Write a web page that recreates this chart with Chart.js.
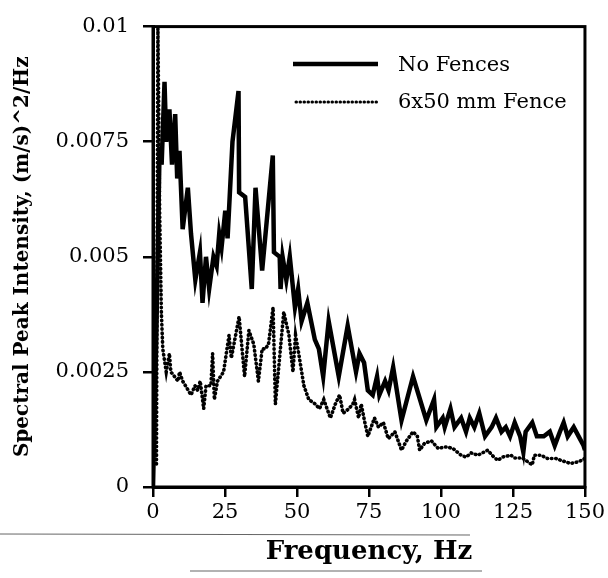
<!DOCTYPE html>
<html>
<head>
<meta charset="utf-8">
<script src="https://cdn.jsdelivr.net/npm/chart.js@4.4.1/dist/chart.umd.min.js"></script>
<style>
  html, body { margin: 0; padding: 0; background: #fff; }
  #wrap { width: 608px; height: 578px; position: relative; }
</style>
</head>
<body>
<div id="wrap"><canvas id="grafica"></canvas></div>
<script>
// Frecuencias (Hz) y picos espectrales
const freqSinValla = [0, 1.2, 2.3, 3.0, 4.0, 4.6, 5.7, 6.6, 7.7, 8.4, 9.2, 10.3, 12.1, 13.2, 14.7, 16.3, 17.2,
  18.4, 19.5, 21.0, 22.1, 23.0, 23.8, 25.1, 25.9, 27.6, 29.7, 29.9, 32.0, 34.3, 35.6, 37.9, 41.6, 42.0,
  44.0, 44.3, 45.0, 46.3, 47.5, 49.3, 50.4, 51.6, 53.6, 56.2, 57.6, 59.1, 61.0, 64.5, 67.6, 70.5, 71.7,
  73.3, 74.6, 76.3, 77.8, 78.6, 80.6, 81.8, 83.4, 86.3, 90.3, 94.9, 97.6, 98.4, 100.6, 101.3, 103.3,
  104.7, 107.0, 108.7, 110.0, 111.6, 113.3, 115.3, 117.6, 119.1, 121.0, 122.5, 124.0, 125.6, 127.5,
  128.6, 129.4, 131.7, 133.3, 135.7, 137.8, 139.5, 141.3, 142.6, 144.0, 146.1, 147.8, 149.5, 150];
const sinValla = [0, 0.0035, 0.0074, 0.0070, 0.0088, 0.0075, 0.0082, 0.0070, 0.0081, 0.0067, 0.0073,
  0.0056, 0.0065, 0.0055, 0.0045, 0.0051, 0.0040, 0.0050, 0.0043, 0.0050, 0.0048, 0.0055, 0.0052,
  0.0060, 0.0054, 0.0075, 0.0086, 0.0064, 0.0063, 0.0043, 0.0065, 0.0047, 0.0072, 0.0051, 0.0050,
  0.0043, 0.0050, 0.0045, 0.0050, 0.0039, 0.0043, 0.0036, 0.0040, 0.0032, 0.0030, 0.0024, 0.0036,
  0.0024, 0.0035, 0.0025, 0.0029, 0.0027, 0.0021, 0.0020, 0.0024, 0.0020, 0.0023, 0.0021, 0.0026,
  0.00145, 0.0024, 0.00145, 0.0019, 0.0013, 0.0015, 0.0013, 0.0017, 0.0013, 0.0015, 0.0012, 0.0015,
  0.0013, 0.0016, 0.0011, 0.0013, 0.0015, 0.0012, 0.0013, 0.0011, 0.0014, 0.0011, 0.00076, 0.0012,
  0.0014, 0.0011, 0.0011, 0.0012, 0.0009, 0.0012, 0.0014, 0.0011, 0.0013, 0.0011, 0.0009, 0.0008];

const freqValla = [1.2, 1.7, 2.3, 2.9, 3.4, 4.6, 5.7, 6.2, 8.7, 9.2, 10.3, 13.2, 14.6, 15.5, 16.4, 17.6,
  18.4, 20.1, 20.7, 21.3, 22.4, 24.5, 26.4, 27.2, 28.7, 29.9, 31.8, 33.3, 35.0, 36.6, 37.9, 39.0, 40.1,
  41.7, 42.5, 45.4, 47.2, 48.6, 49.5, 50.6, 52.4, 54.1, 56.4, 57.8, 59.3, 61.6, 63.3, 64.8, 66.0, 68.0,
  69.4, 70.0, 71.4, 72.3, 73.4, 74.6, 76.9, 78.3, 80.0, 81.7, 84.0, 86.3, 88.0, 90.3, 91.8, 92.6, 94.3,
  96.7, 99.0, 101.8, 104.1, 107.0, 108.7, 110.5, 112.8, 116.2, 117.9, 119.7, 121.4, 124.3, 125.6,
  128.3, 131.7, 132.4, 134.7, 137.0, 139.9, 141.6, 145.0, 147.9, 150];
const valla = [0.0005, 0.0100, 0.0060, 0.0038, 0.0030, 0.0025, 0.0029, 0.0025, 0.0023, 0.0025, 0.0023,
  0.0020, 0.0022, 0.0021, 0.0023, 0.0017, 0.0022, 0.0022, 0.0029, 0.0019, 0.0023, 0.0025, 0.0033,
  0.0028, 0.0033, 0.0037, 0.0024, 0.0034, 0.0031, 0.0023, 0.0030, 0.0030, 0.0031, 0.0039, 0.0018,
  0.0038, 0.0033, 0.0025, 0.0033, 0.0029, 0.0022, 0.0019, 0.0018, 0.0017, 0.0019, 0.0015, 0.0018,
  0.0020, 0.0016, 0.0017, 0.0018, 0.0019, 0.0015, 0.0018, 0.00145, 0.0011, 0.0015, 0.0013, 0.0014,
  0.00105, 0.0012, 0.0008, 0.0010, 0.0012, 0.0011, 0.0008, 0.00095, 0.0010, 0.00084, 0.00087, 0.00084,
  0.00069, 0.00065, 0.00074, 0.00069, 0.0008, 0.00068, 0.00058, 0.00065, 0.00069, 0.00063, 0.00063,
  0.00048, 0.00069, 0.00069, 0.00062, 0.00062, 0.00058, 0.00051, 0.00055, 0.00062];

const nombres = ['No Fences', '6x50 mm Fence'];
const ticksX = [0, 25, 50, 75, 100, 125, 150];
const ticksY = [0, 0.0025, 0.005, 0.0075, 0.01];

const fuente = '"DejaVu Serif", "Liberation Serif", serif';

// marco, leyenda y lineas del escaneo
const extras = {
  id: 'extras',
  afterDraw(chart) {
    const ctx = chart.ctx;
    const a = chart.chartArea;
    ctx.save();
    ctx.strokeStyle = '#000';
    ctx.lineWidth = 3;
    ctx.strokeRect(a.left, a.top, a.right - a.left, a.bottom - a.top);

    // leyenda
    ctx.lineWidth = 4.5;
    ctx.beginPath();
    ctx.moveTo(293, 64); ctx.lineTo(378, 64);
    ctx.stroke();
    ctx.lineWidth = 3;
    ctx.lineCap = 'round';
    ctx.setLineDash([0.5, 3.5]);
    ctx.beginPath();
    ctx.moveTo(296, 102); ctx.lineTo(378, 102);
    ctx.stroke();
    ctx.setLineDash([]);
    ctx.lineCap = 'butt';
    ctx.fillStyle = '#000';
    ctx.font = '21px ' + fuente;
    ctx.textBaseline = 'middle';
    ctx.fillText(nombres[0], 398, 66);
    ctx.fillText(nombres[1], 398, 103);

    // rayas del escaneo junto al titulo
    ctx.strokeStyle = 'rgba(0,0,0,0.6)';
    ctx.lineWidth = 1.2;
    ctx.beginPath();
    ctx.moveTo(0, 534); ctx.lineTo(470, 535);
    ctx.moveTo(190, 571); ctx.lineTo(482, 571);
    ctx.stroke();
    ctx.restore();
  }
};

const ctx = document.getElementById('grafica').getContext('2d');
new Chart(ctx, {
  type: 'line',
  data: {
    datasets: [{
      label: nombres[0],
      data: freqSinValla.map((f, i) => ({ x: f, y: sinValla[i] })),
      borderColor: '#000',
      borderWidth: 4.5,
      pointRadius: 0,
      tension: 0,
      fill: false
    }, {
      label: nombres[1],
      data: freqValla.map((f, i) => ({ x: f, y: valla[i] })),
      borderColor: '#000',
      borderWidth: 3.6,
      borderDash: [0.5, 3.8],
      borderCapStyle: 'round',
      pointRadius: 0,
      tension: 0,
      fill: false
    }]
  },
  options: {
    responsive: true,
    maintainAspectRatio: false,
    animation: false,
    layout: { padding: { top: 25, right: 20, left: 0, bottom: 0 } },
    plugins: {
      legend: { display: false },
      tooltip: { enabled: false }
    },
    scales: {
      x: {
        type: 'linear',
        min: 0,
        max: 150,
        afterBuildTicks: s => { s.ticks = ticksX.map(v => ({ value: v })); },
        afterFit: s => { s.height = 91; },
        grid: { drawOnChartArea: false, color: '#000', tickLength: 10, lineWidth: 2.5 },
        border: { color: '#000', width: 3 },
        ticks: { color: '#000', font: { family: fuente, size: 21 }, padding: 3, maxRotation: 0 },
        title: {
          display: true,
          text: 'Frequency, Hz',
          color: '#000',
          font: { family: fuente, size: 26, weight: 'bold' },
          padding: { top: 0, bottom: 10 }
        }
      },
      y: {
        min: 0,
        max: 0.01,
        afterBuildTicks: s => { s.ticks = ticksY.map(v => ({ value: v })); },
        afterFit: s => { s.width = 153; },
        grid: { drawOnChartArea: false, color: '#000', tickLength: 10, lineWidth: 2.5 },
        border: { color: '#000', width: 3 },
        ticks: {
          color: '#000',
          font: { family: fuente, size: 21 },
          padding: 14,
          callback: v => String(+v.toFixed(4))
        },
        title: {
          display: true,
          text: 'Spectral Peak Intensity, (m/s)^2/Hz',
          color: '#000',
          font: { family: fuente, size: 20, weight: 'bold' },
          padding: { top: 11, bottom: 0 }
        }
      }
    }
  },
  plugins: [extras]
});
</script>
</body>
</html>
